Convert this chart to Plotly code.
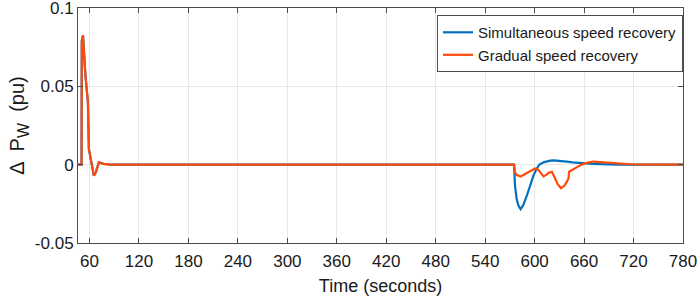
import plotly.graph_objects as go

# Simultaneous speed recovery
t_sim = [46, 50.3, 50.6, 52, 55, 58, 59.2, 61.2, 63, 65.2, 67.5, 71.3, 77, 85,
         575, 576.2, 578.2, 580.2, 583, 586, 590.4, 594.5, 598.5, 602.6, 605.8,
         610.7, 614, 618.8, 623, 627, 633, 639, 646, 654, 662, 670, 680, 690, 700, 720, 780]
p_sim = [0, 0, 0.079, 0.0827, 0.057, 0.040, 0.010, 0.004, -0.002, -0.007, -0.005, 0.0015, 0.0005, 0,
         0, -0.0135, -0.022, -0.026, -0.0284, -0.026, -0.020, -0.013, -0.007, -0.0024, 0,
         0.0015, 0.0021, 0.0026, 0.0027, 0.0026, 0.0023, 0.002, 0.0015, 0.0011, 0.0008, 0.0005, 0.0003, 0.0001, 0.00005, 0, 0]

# Gradual speed recovery
t_grad = [46, 50.3, 50.6, 52, 55, 58, 59.2, 61.2, 63, 65.2, 67.5, 71.3, 77, 85,
          575, 576.2, 578, 583, 590, 596, 600.6, 604, 607, 610.7, 614, 618, 621,
          624, 628, 632, 636, 639, 641, 641.8, 646, 651, 656, 662, 671, 680, 691, 705, 720, 780]
p_grad = [0, 0, 0.079, 0.0827, 0.057, 0.040, 0.010, 0.004, -0.002, -0.007, -0.005, 0.0015, 0.0005, 0,
          0, -0.005, -0.0065, -0.0075, -0.0055, -0.0035, -0.0024, -0.003, -0.005, -0.0075, -0.0065, -0.005, -0.0045,
          -0.008, -0.0125, -0.015, -0.0135, -0.011, -0.009, -0.0045, -0.003, -0.0017, -0.0002, 0.001, 0.002, 0.0017, 0.001, 0.0004, 0.0001, 0]

x_ticks = [60, 120, 180, 240, 300, 360, 420, 480, 540, 600, 660, 720, 780]
y_ticks = [-0.05, 0, 0.05, 0.1]
y_tick_text = ["-0.05", "0", "0.05", "0.1"]

FONT = "Liberation Sans, Arial"

fig = go.Figure()
fig.add_trace(go.Scatter(x=t_sim, y=p_sim, mode="lines", name="Simultaneous speed recovery",
                         line=dict(color="#0072BD", width=2.2)))
fig.add_trace(go.Scatter(x=t_grad, y=p_grad, mode="lines", name="Gradual speed recovery",
                         line=dict(color="#FF4A0A", width=2.2)))

axis_common = dict(showline=True, linecolor="#4d4d4d", linewidth=1, mirror="ticks",
                   ticks="inside", ticklen=5, tickcolor="#4d4d4d",
                   showgrid=True, gridcolor="#e8e8e8", gridwidth=1, zeroline=False,
                   automargin=False, ticklabeloverflow="allow",
                   tickfont=dict(family=FONT, size=17, color="#1a1a1a"))

fig.update_xaxes(range=[46, 780], tickvals=x_ticks, ticklabelstandoff=3,
                 title=dict(text="Time (seconds)", font=dict(family=FONT, size=18, color="#1a1a1a"), standoff=8),
                 **axis_common)
fig.update_yaxes(range=[-0.05, 0.10001], tickvals=y_ticks, ticktext=y_tick_text,
                 title=dict(text="Δ  P<sub><span style='font-size:16px'>W</span></sub>  (pu)",
                            font=dict(family=FONT, size=20, color="#1a1a1a"), standoff=4),
                 **axis_common)

fig.update_layout(
    width=699, height=297,
    margin=dict(l=78, r=16, t=8, b=54),
    plot_bgcolor="white", paper_bgcolor="white",
    showlegend=True,
    legend=dict(x=1.0, xanchor="right", y=0.97, yanchor="top",
                bgcolor="white", bordercolor="#4d4d4d", borderwidth=1,
                font=dict(family=FONT, size=15, color="#1a1a1a"),
                itemwidth=30, tracegroupgap=0),
)

fig.write_html("out.html", config={"displayModeBar": False},
               post_script="document.body.style.margin='0';")
